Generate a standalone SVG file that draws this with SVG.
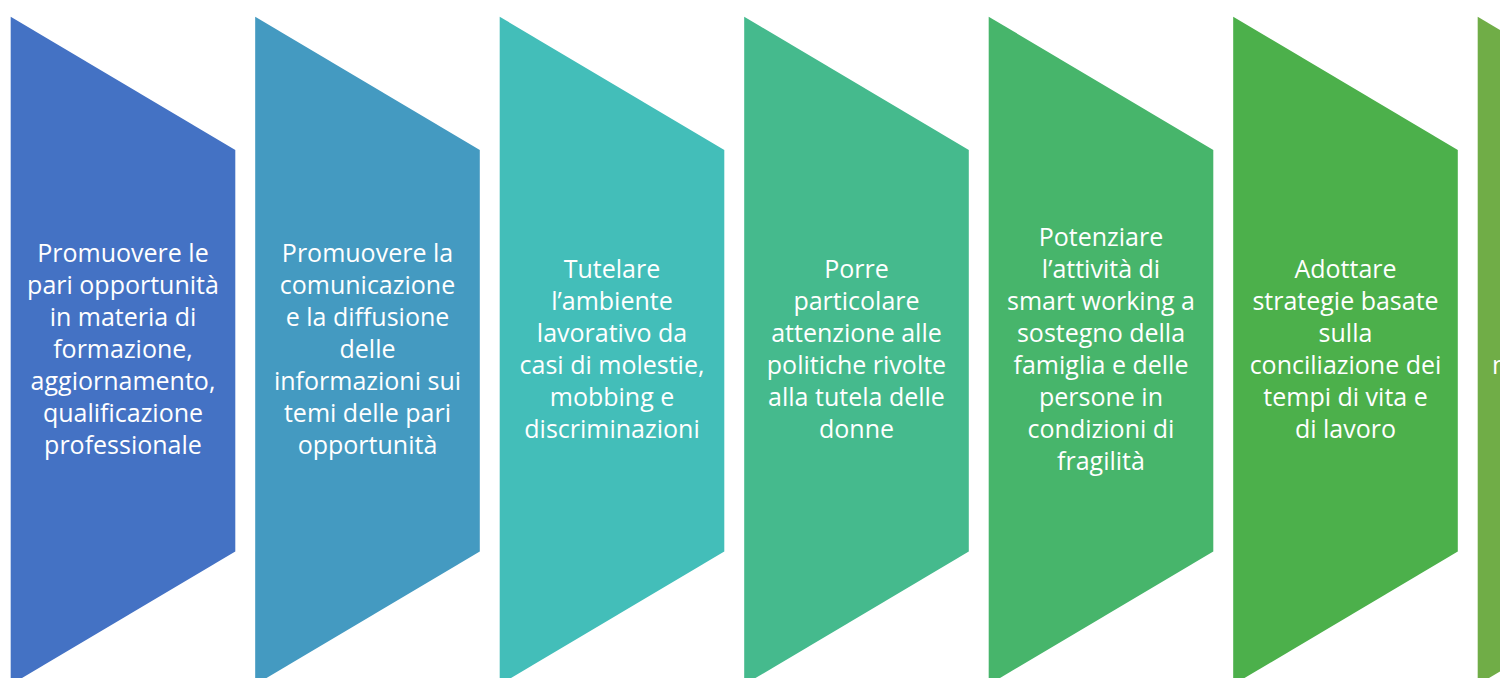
<svg xmlns="http://www.w3.org/2000/svg" width="1500" height="678" viewBox="0 0 1500 678">
<style>
.lbl{font-family:"Open Sans","Liberation Sans",sans-serif;font-size:25px;fill:#ffffff;text-anchor:middle}
</style>
<rect width="1500" height="678" fill="#ffffff"/>
<g id="connectors"></g>
<g id="node1">
<polygon points="10.7,16.7 235.3,150 235.3,551.5 10.7,684.7" fill="#4472C4"/>
<text class="lbl"><tspan x="123" y="262">Promuovere le</tspan><tspan x="123" y="294">pari opportunità</tspan><tspan x="123" y="326">in materia di</tspan><tspan x="123" y="358">formazione,</tspan><tspan x="123" y="390">aggiornamento,</tspan><tspan x="123" y="422">qualificazione</tspan><tspan x="123" y="454">professionale</tspan></text>
</g>
<g id="node2">
<polygon points="255.2,16.7 479.8,150 479.8,551.5 255.2,684.7" fill="#449AC1"/>
<text class="lbl"><tspan x="367.5" y="262">Promuovere la</tspan><tspan x="367.5" y="294">comunicazione</tspan><tspan x="367.5" y="326">e la diffusione</tspan><tspan x="367.5" y="358">delle</tspan><tspan x="367.5" y="390">informazioni sui</tspan><tspan x="367.5" y="422">temi delle pari</tspan><tspan x="367.5" y="454">opportunità</tspan></text>
</g>
<g id="node3">
<polygon points="499.7,16.7 724.3,150 724.3,551.5 499.7,684.7" fill="#43BEB9"/>
<text class="lbl"><tspan x="612" y="278">Tutelare</tspan><tspan x="612" y="310">l’ambiente</tspan><tspan x="612" y="342">lavorativo da</tspan><tspan x="612" y="374">casi di molestie,</tspan><tspan x="612" y="406">mobbing e</tspan><tspan x="612" y="438">discriminazioni</tspan></text>
</g>
<g id="node4">
<polygon points="744.2,16.7 968.8,150 968.8,551.5 744.2,684.7" fill="#45BA8D"/>
<text class="lbl"><tspan x="856.5" y="278">Porre</tspan><tspan x="856.5" y="310">particolare</tspan><tspan x="856.5" y="342">attenzione alle</tspan><tspan x="856.5" y="374">politiche rivolte</tspan><tspan x="856.5" y="406">alla tutela delle</tspan><tspan x="856.5" y="438">donne</tspan></text>
</g>
<g id="node5">
<polygon points="988.7,16.7 1213.3,150 1213.3,551.5 988.7,684.7" fill="#47B56B"/>
<text class="lbl"><tspan x="1101" y="246">Potenziare</tspan><tspan x="1101" y="278">l’attività di</tspan><tspan x="1101" y="310">smart working a</tspan><tspan x="1101" y="342">sostegno della</tspan><tspan x="1101" y="374">famiglia e delle</tspan><tspan x="1101" y="406">persone in</tspan><tspan x="1101" y="438">condizioni di</tspan><tspan x="1101" y="470">fragilità</tspan></text>
</g>
<g id="node6">
<polygon points="1233.2,16.7 1457.8,150 1457.8,551.5 1233.2,684.7" fill="#4CB04B"/>
<text class="lbl"><tspan x="1345.5" y="278">Adottare</tspan><tspan x="1345.5" y="310">strategie basate</tspan><tspan x="1345.5" y="342">sulla</tspan><tspan x="1345.5" y="374">conciliazione dei</tspan><tspan x="1345.5" y="406">tempi di vita e</tspan><tspan x="1345.5" y="438">di lavoro</tspan></text>
</g>
<g id="node7">
<polygon points="1477.7,16.7 1702.3,150 1702.3,551.5 1477.7,684.7" fill="#70AD47"/>
<text class="lbl" style="text-anchor:start" x="1492" y="374">n</text>
</g>
</svg>
